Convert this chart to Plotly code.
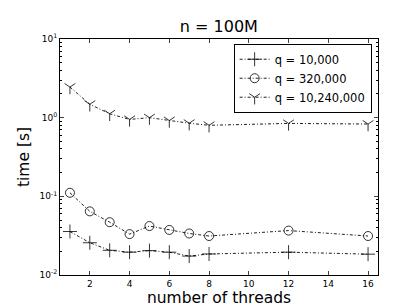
import plotly.graph_objects as go

threads = [1, 2, 3, 4, 5, 6, 7, 8, 12, 16]
t_q10k = [0.0357, 0.0257, 0.0206, 0.0195, 0.0204, 0.0195, 0.0174, 0.0185, 0.0195, 0.0184]
t_q320k = [0.111, 0.0644, 0.0469, 0.0331, 0.0419, 0.0374, 0.0337, 0.0313, 0.0367, 0.0313]
t_q10m = [2.45, 1.48, 1.12, 0.95, 1.0, 0.92, 0.85, 0.80, 0.845, 0.83]
names = ["q = 10,000", "q = 320,000", "q = 10,240,000"]
symbols = ["cross-thin-open", "circle-open", "y-down-open"]
sizes = [10, 9, 9]
series = [t_q10k, t_q320k, t_q10m]

xticks = [2, 4, 6, 8, 10, 12, 14, 16]
yticks = [0.01, 0.1, 1, 10]
yticktext = ["10<sup>-2</sup>", "10<sup>-1</sup>", "10<sup>0</sup>", "10<sup>1</sup>"]

font = "DejaVu Sans"
fig = go.Figure()
for name, ys, sym, sz in zip(names, series, symbols, sizes):
    fig.add_trace(go.Scatter(
        x=threads, y=ys, name=name, mode="lines+markers",
        line=dict(color="#222222", width=1, dash="3px,2px,1px,2px"),
        marker=dict(symbol=sym, size=sz, color="black",
                    line=dict(color="#222222", width=0.8)),
    ))

fig.update_layout(
    width=411, height=308,
    margin=dict(l=52, r=41, t=31, b=31),
    paper_bgcolor="white", plot_bgcolor="white",
    font=dict(family=font, color="black"),
    title=dict(text="n = 100M", x=0.513, xanchor="center", y=0.94, yanchor="middle",
               font=dict(size=16, family=font)),
    legend=dict(x=0.98, y=0.98, xanchor="right", yanchor="top",
                bordercolor="black", borderwidth=1, bgcolor="white",
                font=dict(size=11.5, family=font), tracegroupgap=0, itemwidth=30),
    showlegend=True,
)
fig.update_xaxes(
    range=[0.5, 16.5], tickvals=xticks, ticks="inside", ticklen=4,
    showline=True, linecolor="black", linewidth=1, mirror="ticks",
    showgrid=False, zeroline=False, tickfont=dict(size=9, family=font),
    title=dict(text="number of threads", font=dict(size=15.5, family=font), standoff=4),
)
fig.update_yaxes(
    type="log", range=[-2, 1], tickvals=yticks, ticktext=yticktext,
    ticks="inside", ticklen=4,
    minor=dict(ticks="inside", ticklen=2, dtick="D1", tickcolor="black", showgrid=False),
    showline=True, linecolor="black", linewidth=1, mirror="ticks",
    showgrid=False, zeroline=False, tickfont=dict(size=9, family=font),
    title=dict(text="time [s]", font=dict(size=15.5, family=font), standoff=6),
)
fig.write_html("out.html")
